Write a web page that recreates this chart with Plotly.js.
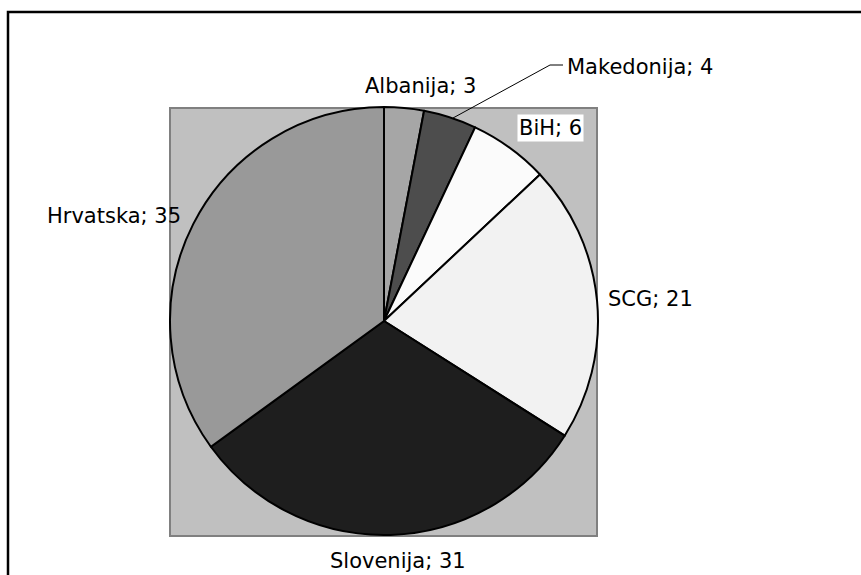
<!DOCTYPE html>
<html>
<head>
<meta charset="utf-8">
<script src="https://cdn.plot.ly/plotly-3.0.1.min.js"></script>
<style>html,body{margin:0;padding:0;background:#fff}#chart{width:861px;height:575px}</style>
</head>
<body>
<div id="chart"></div>
<script>
var countries = ["Albanija", "Makedonija", "BiH", "SCG", "Slovenija", "Hrvatska"];
var shares = [3, 4, 6, 21, 31, 35];
var sliceColors = ["#a6a6a6", "#4d4d4d", "#fbfbfb", "#f2f2f2", "#1e1e1e", "#999999"];

var W = 861, H = 575;
function px(x) { return x / W; }
function py(y) { return 1 - y / H; }

// label placement (pixel centres) for each slice
var labelPos = [[420, 86], [640, 67], [550, 128], [650, 299], [398, 561], [114, 216]];

var annotations = countries.map(function (c, i) {
  var a = {
    text: c + "; " + shares[i],
    x: px(labelPos[i][0]), y: py(labelPos[i][1]),
    xref: "paper", yref: "paper",
    xanchor: "center", yanchor: "middle",
    showarrow: false,
    font: {family: "DejaVu Sans, Verdana, sans-serif", size: 21, color: "#000"}
  };
  if (c === "BiH") { a.bgcolor = "#ffffff"; a.borderpad = 1; }
  return a;
});

var data = [{
  type: "pie",
  labels: countries,
  values: shares,
  sort: false,
  direction: "clockwise",
  rotation: 0,
  textinfo: "none",
  hoverinfo: "label+value",
  marker: {colors: sliceColors, line: {color: "#000", width: 2}},
  domain: {x: [px(170), px(598)], y: [py(535), py(107)]},
  showlegend: false
}];

var layout = {
  width: W, height: H,
  margin: {l: 0, r: 0, t: 0, b: 0},
  paper_bgcolor: "#ffffff",
  showlegend: false,
  shapes: [
    {type: "rect", xref: "paper", yref: "paper", layer: "below",
     x0: px(170), x1: px(597), y0: py(536), y1: py(108),
     fillcolor: "#c0c0c0", line: {color: "#808080", width: 2}},
    {type: "rect", xref: "paper", yref: "paper",
     x0: px(8), x1: px(880), y0: py(600), y1: py(12),
     fillcolor: "rgba(0,0,0,0)", line: {color: "#000", width: 2.5}},
    {type: "path", xref: "paper", yref: "paper",
     path: "M " + px(453) + " " + py(118) + " L " + px(550) + " " + py(65) + " L " + px(563) + " " + py(65),
     line: {color: "#000", width: 1}}
  ],
  annotations: annotations
};

Plotly.newPlot("chart", data, layout, {displayModeBar: false, staticPlot: true});
</script>
</body>
</html>
